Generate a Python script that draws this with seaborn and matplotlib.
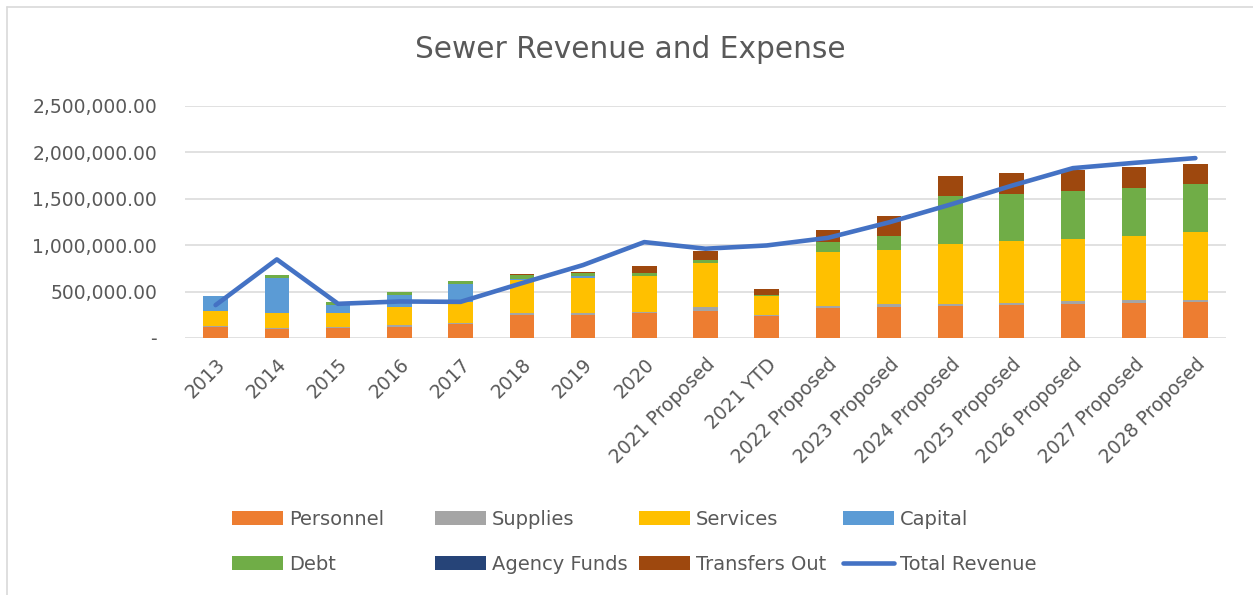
import matplotlib
matplotlib.use("Agg")
import matplotlib.pyplot as plt
import seaborn as sns
import numpy as np
import pandas as pd
from matplotlib.patches import Patch
from matplotlib.lines import Line2D
from matplotlib.ticker import FuncFormatter

categories = ['2013', '2014', '2015', '2016', '2017', '2018', '2019', '2020',
              '2021 Proposed', '2021 YTD', '2022 Proposed', '2023 Proposed',
              '2024 Proposed', '2025 Proposed', '2026 Proposed', '2027 Proposed',
              '2028 Proposed']
personnel = [120000, 100000, 108000, 121000, 150000, 243000, 250000, 264000,
             293000, 232000, 325000, 336000, 346000, 357000, 371000, 379000, 389000]
supplies = [10000, 10000, 6000, 15000, 14000, 21000, 21000, 15000,
            36000, 11000, 21000, 25000, 25000, 25000, 22000, 28000, 25000]
services = [159000, 158000, 150000, 196000, 222000, 365000, 379000, 385000,
            478000, 207000, 575000, 585000, 636000, 657000, 671000, 696000, 722000]
capital = [164000, 378000, 90000, 136000, 196000, 10000, 14000, 0,
           0, 0, 0, 0, 0, 0, 0, 0, 0]
debt = [0, 32000, 32000, 32000, 29000, 36000, 36000, 32000,
        32000, 14000, 115000, 147000, 518000, 514000, 522000, 515000, 517000]
agency_funds = [0] * 17
transfers_out = [0, 0, 0, 0, 0, 14000, 14000, 82000,
                 97000, 68000, 125000, 218000, 221000, 222000, 221000, 221000, 215000]
total_revenue = [354000, 846000, 368000, 393000, 389000, 590000, 785000, 1032000,
                 961000, 996000, 1078000, 1245000, 1436000, 1639000, 1828000,
                 1885000, 1936000]

series_names = ['Personnel', 'Supplies', 'Services', 'Capital', 'Debt',
                'Agency Funds', 'Transfers Out']
series_vals = [personnel, supplies, services, capital, debt, agency_funds, transfers_out]
series_colors = ['#ED7D31', '#A5A5A5', '#FFC000', '#5B9BD5', '#70AD47',
                 '#264478', '#9E480E']
line_color = '#4472C4'
text_color = '#595959'

sns.set_theme(style='white')
plt.rcParams['font.family'] = ['DejaVu Sans']

W, H = 1253, 595
fig = plt.figure(figsize=(W / 100, H / 100), dpi=100)
ax = fig.add_axes([185 / W, 1 - 338 / H, (1226 - 185) / W, (338 - 105.7) / H])

df = pd.DataFrame({'cat': categories})
cum = np.zeros(len(categories))
cums = []
for v in series_vals:
    cum = cum + np.array(v, dtype=float)
    cums.append(cum.copy())

# draw from top layer down so each lower layer overlays
for name, c, col in reversed(list(zip(series_names, cums, series_colors))):
    d = df.copy()
    d['val'] = c
    sns.barplot(data=d, x='cat', y='val', order=categories, color=col,
                saturation=1, width=0.4, ax=ax, linewidth=0, errorbar=None)

sns.lineplot(x=np.arange(len(categories)), y=total_revenue, ax=ax,
             color=line_color, linewidth=3.3, solid_capstyle='round',
             solid_joinstyle='round')

ax.set_xlim(-0.5, len(categories) - 0.5)
ax.set_ylim(0, 2500000)
ax.set_yticks(np.arange(0, 2500001, 500000))
ax.yaxis.set_major_formatter(FuncFormatter(
    lambda v, p: '-' if v == 0 else f'{v:,.2f}'))
ax.grid(axis='y', color='#D9D9D9', linewidth=1.1)
ax.set_axisbelow(True)
for s in ax.spines.values():
    s.set_visible(False)
ax.set_xlabel('')
ax.set_ylabel('')
ax.tick_params(axis='y', length=0, pad=20, labelsize=13.5, labelcolor=text_color)
ax.tick_params(axis='x', length=0, pad=12, labelsize=13.5, labelcolor=text_color)
ax.set_xticks(np.arange(len(categories)))
ax.set_xticklabels(categories, rotation=45, ha='right', rotation_mode='anchor')

fig.text(630 / W, 1 - 50 / H, 'Sewer Revenue and Expense', ha='center',
         va='center', fontsize=21.3, color=text_color)

# legend: four columns, two rows
handles = [Patch(facecolor=c, edgecolor='none') for c in series_colors]
handles.append(Line2D([0], [0], color=line_color, linewidth=3.3,
                      solid_capstyle='round'))
labels = series_names + ['Total Revenue']
col_x = [232, 435, 639, 843]
fs = 14
for j in range(4):
    hs = [handles[j], handles[j + 4]]
    ls = [labels[j], labels[j + 4]]
    fig.legend(hs, ls, loc='upper left',
               bbox_to_anchor=(col_x[j] / W, 1 - 510 / H),
               frameon=False, borderpad=0, borderaxespad=0,
               fontsize=fs, handlelength=2.62, handleheight=0.72,
               handletextpad=0.3, labelspacing=1.33, labelcolor=text_color)

# chart border (top and left visible)
fig.add_artist(Line2D([7 / W, 7 / W], [0, 1 - 7 / H], transform=fig.transFigure,
                      color='#D9D9D9', linewidth=1.2))
fig.add_artist(Line2D([7 / W, 1], [1 - 7 / H, 1 - 7 / H], transform=fig.transFigure,
                      color='#D9D9D9', linewidth=1.2))

fig.savefig('out.png', dpi=100)
